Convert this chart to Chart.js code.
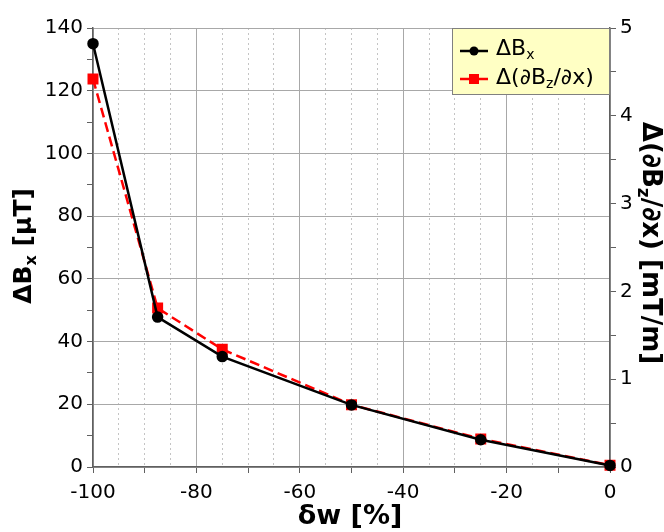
<!DOCTYPE html>
<html>
<head>
<meta charset="utf-8">
<script src="https://cdn.jsdelivr.net/npm/chart.js@4"></script>
<style>
  body { margin: 0; background: #fff; }
  canvas { display: block; }
</style>
</head>
<body>
<canvas id="chartCanvas" width="664" height="532"></canvas>
<script>
// Data
const dwPercent = [-100, -87.5, -75, -50, -25, 0];
const deltaBx = [135, 47.8, 35.2, 19.8, 8.7, 0.5];          // µT, left axis
const deltaGradBz = [4.42, 1.81, 1.34, 0.71, 0.32, 0.02];   // mT/m, right axis

const FONT = 'DejaVu Sans';

// Draw a string made of normal + subscript parts
function richWidth(ctx, parts, size) {
  let w = 0;
  parts.forEach((p) => {
    ctx.font = (p.bold ? 'bold ' : '') + (p.sub ? Math.round(size * 0.65) : size) + 'px ' + FONT;
    w += ctx.measureText(p.t).width;
  });
  return w;
}
function drawRich(ctx, parts, x, y, size, align) {
  let w = richWidth(ctx, parts, size);
  let cx = align === 'center' ? x - w / 2 : x;
  ctx.textBaseline = 'middle';
  ctx.textAlign = 'left';
  parts.forEach((p) => {
    ctx.font = (p.bold ? 'bold ' : '') + (p.sub ? Math.round(size * 0.65) : size) + 'px ' + FONT;
    ctx.fillText(p.t, cx, p.sub ? y + size * 0.3 : y);
    cx += ctx.measureText(p.t).width;
  });
}

const titlesAndLegend = {
  id: 'titlesAndLegend',
  afterDraw(chart) {
    const ctx = chart.ctx;
    const area = chart.chartArea;
    ctx.save();
    ctx.fillStyle = '#000';

    // x axis title
    drawRich(ctx, [{ t: 'δw [%]', bold: true }], 350, 517, 27, 'center');

    // left axis title
    ctx.save();
    ctx.translate(24, 246);
    ctx.rotate(-Math.PI / 2);
    drawRich(ctx, [{ t: 'ΔB', bold: true }, { t: 'x', bold: true, sub: true }, { t: ' [µT]', bold: true }], 0, 0, 25, 'center');
    ctx.restore();

    // right axis title
    ctx.save();
    ctx.translate(650, 243);
    ctx.rotate(Math.PI / 2);
    drawRich(ctx, [{ t: 'Δ(∂B', bold: true }, { t: 'z', bold: true, sub: true }, { t: '/∂x) [mT/m]', bold: true }], 0, 0, 26, 'center');
    ctx.restore();

    // legend box
    const lx = area.right - 158, ly = area.top, lw = 158, lh = 67;
    ctx.fillStyle = '#ffffc4';
    ctx.fillRect(lx, ly, lw, lh);
    ctx.strokeStyle = '#808080';
    ctx.lineWidth = 1;
    ctx.strokeRect(lx + 0.5, ly + 0.5, lw - 1, lh - 1);

    // legend item 1
    ctx.strokeStyle = '#000';
    ctx.lineWidth = 2.5;
    ctx.beginPath();
    ctx.moveTo(lx + 8, ly + 23);
    ctx.lineTo(lx + 36, ly + 23);
    ctx.stroke();
    ctx.fillStyle = '#000';
    ctx.beginPath();
    ctx.arc(lx + 22, ly + 23, 4.5, 0, Math.PI * 2);
    ctx.fill();
    drawRich(ctx, [{ t: 'ΔB' }, { t: 'x', sub: true }], lx + 44, ly + 21, 22, 'left');

    // legend item 2
    ctx.strokeStyle = '#ff0000';
    ctx.beginPath();
    ctx.moveTo(lx + 8, ly + 51);
    ctx.lineTo(lx + 36, ly + 51);
    ctx.stroke();
    ctx.fillStyle = '#ff0000';
    ctx.fillRect(lx + 17, ly + 46, 10, 10);
    ctx.fillStyle = '#000';
    drawRich(ctx, [{ t: 'Δ(∂B' }, { t: 'z', sub: true }, { t: '/∂x)' }], lx + 44, ly + 50, 22, 'left');

    ctx.restore();
  }
};

const ctx = document.getElementById('chartCanvas').getContext('2d');
new Chart(ctx, {
  type: 'line',
  data: {
    datasets: [
      {
        label: 'ΔBx',
        data: dwPercent.map((x, i) => ({ x: x, y: deltaBx[i] })),
        yAxisID: 'y',
        borderColor: '#000',
        backgroundColor: '#000',
        borderWidth: 2.5,
        pointStyle: 'circle',
        pointRadius: 4.5,
        tension: 0,
        clip: false,
      },
      {
        label: 'Δ(∂Bz/∂x)',
        data: dwPercent.map((x, i) => ({ x: x, y: deltaGradBz[i] })),
        yAxisID: 'y2',
        borderColor: '#ff0000',
        backgroundColor: '#ff0000',
        borderWidth: 2.5,
        borderDash: [10, 5],
        pointStyle: 'rect',
        pointRadius: 6,
        tension: 0,
        clip: false,
      },
    ],
  },
  options: {
    responsive: false,
    animation: false,
    layout: { padding: { top: 28, left: 0, right: 0, bottom: 0 } },
    plugins: {
      legend: { display: false },
      tooltip: { enabled: false },
      title: { display: false },
    },
    scales: {
      x: {
        type: 'linear',
        position: 'bottom',
        min: -100,
        max: 0,
        ticks: {
          stepSize: 10,
          autoSkip: false,
          maxRotation: 0,
          padding: 8,
          color: '#000',
          font: { family: FONT, size: 20 },
          callback: (v) => (v % 20 === 0 ? v : ''),
        },
        grid: {
          color: (c) => (c.tick && c.tick.value % 20 === 0 ? '#a8a8a8' : 'rgba(0,0,0,0)'),
          tickColor: '#606060',
          tickLength: 6,
          lineWidth: 1,
        },
        border: { color: '#606060', width: 1.5 },
        afterFit: (s) => { s.height = 65; },
      },
      xMinor: {
        type: 'linear',
        position: 'bottom',
        min: -100,
        max: 0,
        ticks: { display: false, stepSize: 5, autoSkip: false },
        grid: {
          drawTicks: false,
          color: (c) => (c.tick && c.tick.value % 20 === 0 ? 'rgba(0,0,0,0)' : '#c4c4c4'),
        },
        border: { display: false, dash: [2, 3] },
        afterFit: (s) => { s.height = 0; },
      },
      y: {
        position: 'left',
        min: 0,
        max: 140,
        ticks: {
          stepSize: 10,
          autoSkip: false,
          padding: 4,
          color: '#000',
          font: { family: FONT, size: 20 },
          callback: (v) => (v % 20 === 0 ? v : ''),
        },
        grid: {
          color: (c) => (c.tick && c.tick.value % 20 === 0 ? '#a8a8a8' : 'rgba(0,0,0,0)'),
          tickColor: '#606060',
          tickLength: 6,
        },
        border: { color: '#606060', width: 1.5 },
        afterFit: (s) => { s.width = 93; },
      },
      y2: {
        position: 'right',
        min: 0,
        max: 5,
        ticks: {
          stepSize: 0.5,
          autoSkip: false,
          padding: 4,
          color: '#000',
          font: { family: FONT, size: 20 },
          callback: (v) => (Number.isInteger(v) ? v : ''),
        },
        grid: {
          drawOnChartArea: false,
          tickColor: '#606060',
          tickLength: 6,
        },
        border: { color: '#606060', width: 1.5 },
        afterFit: (s) => { s.width = 54; },
      },
    },
  },
  plugins: [titlesAndLegend],
});
</script>
</body>
</html>
